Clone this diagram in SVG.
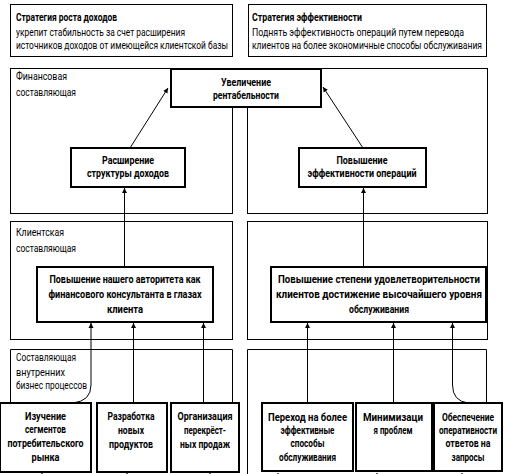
<svg xmlns="http://www.w3.org/2000/svg" width="511" height="474" viewBox="0 0 511 474">
<style>
.bg{fill:#fff}
.panel{fill:none;stroke:#000;stroke-width:1}
.node rect{fill:#fff;stroke:#000;stroke-width:2}
.t{font-family:Roboto,"Liberation Sans","DejaVu Sans",sans-serif;font-size:10.5px;fill:#000}
.b{font-weight:bold}
.c{text-anchor:middle}
.conn path{fill:none;stroke:#000;stroke-width:1;marker-end:url(#ah)}
</style>
<defs>
<marker id="ah" markerUnits="userSpaceOnUse" markerWidth="6" markerHeight="6" refX="5" refY="3" orient="auto">
<path d="M0,0.5 L5,3 L0,5.5 Z" fill="#000"/>
</marker>
</defs>
<rect class="bg" x="0" y="0" width="511" height="474"/>

<g id="strategy-growth">
<rect class="panel" x="10.5" y="4.5" width="222" height="52"/>
<text class="t b" x="16" y="21" textLength="101" lengthAdjust="spacingAndGlyphs">Стратегия роста доходов</text>
<text class="t" x="16" y="36" textLength="169" lengthAdjust="spacingAndGlyphs">укрепит стабильность за счет расширения</text>
<text class="t" x="16" y="49" textLength="212" lengthAdjust="spacingAndGlyphs">источников доходов от имеющейся клиентской базы</text>
</g>
<g id="strategy-efficiency">
<rect class="panel" x="248.5" y="4.5" width="238" height="52"/>
<text class="t b" x="252" y="21" textLength="110" lengthAdjust="spacingAndGlyphs">Стратегия эффективности</text>
<text class="t" x="252" y="36" textLength="212" lengthAdjust="spacingAndGlyphs">Поднять эффективность операций путем перевода</text>
<text class="t" x="252" y="49" textLength="230" lengthAdjust="spacingAndGlyphs">клиентов на более экономичные способы обслуживания</text>
</g>

<g id="panel-financial">
<rect class="panel" x="10.5" y="68.5" width="222" height="145"/>
<rect class="panel" x="247.5" y="68.5" width="240" height="145"/>
<text class="t" x="16" y="80" textLength="51" lengthAdjust="spacingAndGlyphs">Финансовая</text>
<text class="t" x="16" y="96" textLength="60" lengthAdjust="spacingAndGlyphs">составляющая</text>
</g>
<g id="panel-client">
<rect class="panel" x="10.5" y="221.5" width="222" height="118"/>
<rect class="panel" x="247.5" y="221.5" width="240" height="118"/>
<text class="t" x="16" y="236" textLength="48" lengthAdjust="spacingAndGlyphs">Клиентская</text>
<text class="t" x="16" y="252" textLength="60" lengthAdjust="spacingAndGlyphs">составляющая</text>
</g>
<g id="panel-process">
<path class="panel" d="M10.5,403 V349.5 H232.5 V403"/>
<path class="panel" d="M247.5,474 V349.5 H486.5 V403"/>
<text class="t" x="16" y="361" textLength="60" lengthAdjust="spacingAndGlyphs">Составляющая</text>
<text class="t" x="16" y="376" textLength="49" lengthAdjust="spacingAndGlyphs">внутренних</text>
<text class="t" x="16" y="389" textLength="71" lengthAdjust="spacingAndGlyphs">бизнес процессов</text>
</g>

<g id="connectors" class="conn">
<path d="M130,148 L168,88"/>
<path d="M363,148 L323,87"/>
<path d="M124.5,267 V188"/>
<path d="M363.5,267 V188"/>
<path d="M73,403 Q91,401 91,385 V323"/>
<path d="M133.5,403 V323"/>
<path d="M203.5,403 V323"/>
<path d="M307.5,403 V323"/>
<path d="M393.5,403 V323"/>
<path d="M468,403 Q452.5,401 452.5,385 V323"/>
<path d="M42,482 V473"/>
<path d="M127,482 V473"/>
<path d="M210,482 V473"/>
<path d="M278,482 V473"/>
<path d="M377,482 V473"/>
<path d="M462,482 V473"/>
</g>

<g id="node-profitability" class="node">
<rect x="171" y="69" width="150" height="38"/>
<text class="t b c" x="246" y="86" textLength="50" lengthAdjust="spacingAndGlyphs">Увеличение</text>
<text class="t b c" x="246" y="99" textLength="66" lengthAdjust="spacingAndGlyphs">рентабельности</text>
</g>
<g id="node-revenue" class="node">
<rect x="71" y="148" width="114" height="39"/>
<text class="t b c" x="128" y="164" textLength="52" lengthAdjust="spacingAndGlyphs">Расширение</text>
<text class="t b c" x="128" y="177" textLength="82" lengthAdjust="spacingAndGlyphs">структуры доходов</text>
</g>
<g id="node-efficiency" class="node">
<rect x="299" y="148" width="127" height="39"/>
<text class="t b c" x="362" y="164" textLength="51" lengthAdjust="spacingAndGlyphs">Повышение</text>
<text class="t b c" x="362" y="177" textLength="109" lengthAdjust="spacingAndGlyphs">эффективности операций</text>
</g>
<g id="node-authority" class="node">
<rect x="37" y="267" width="176" height="55"/>
<text class="t b c" x="125" y="283" textLength="151" lengthAdjust="spacingAndGlyphs">Повышение нашего авторитета как</text>
<text class="t b c" x="125" y="298" textLength="153" lengthAdjust="spacingAndGlyphs">финансового консультанта в глазах</text>
<text class="t b c" x="125" y="313" textLength="36" lengthAdjust="spacingAndGlyphs">клиента</text>
</g>
<g id="node-satisfaction" class="node">
<rect x="271" y="267" width="215" height="55"/>
<text class="t b c" x="379" y="283" textLength="202" lengthAdjust="spacingAndGlyphs">Повышение степени удовлетворительности</text>
<text class="t b c" x="379" y="298" textLength="206" lengthAdjust="spacingAndGlyphs">клиентов достижение высочайшего уровня</text>
<text class="t b c" x="379" y="313" textLength="60" lengthAdjust="spacingAndGlyphs">обслуживания</text>
</g>
<g id="node-segments" class="node">
<rect x="0" y="403" width="91" height="69"/>
<text class="t b c" x="45.5" y="420" textLength="41" lengthAdjust="spacingAndGlyphs">Изучение</text>
<text class="t b c" x="45.5" y="433" textLength="41" lengthAdjust="spacingAndGlyphs">сегментов</text>
<text class="t b c" x="45.5" y="447" textLength="76" lengthAdjust="spacingAndGlyphs">потребительского</text>
<text class="t b c" x="45.5" y="461" textLength="28" lengthAdjust="spacingAndGlyphs">рынка</text>
</g>
<g id="node-products" class="node">
<rect x="97" y="403" width="70" height="69"/>
<text class="t b c" x="131" y="420" textLength="47" lengthAdjust="spacingAndGlyphs">Разработка</text>
<text class="t b c" x="131" y="434" textLength="26" lengthAdjust="spacingAndGlyphs">новых</text>
<text class="t b c" x="131" y="448" textLength="44" lengthAdjust="spacingAndGlyphs">продуктов</text>
</g>
<g id="node-crosssales" class="node">
<rect x="171" y="403" width="68" height="69"/>
<text class="t b c" x="205" y="420" textLength="55" lengthAdjust="spacingAndGlyphs">Организация</text>
<text class="t b c" x="205" y="434" textLength="42" lengthAdjust="spacingAndGlyphs">перекрёст-</text>
<text class="t b c" x="205" y="448" textLength="50" lengthAdjust="spacingAndGlyphs">ных продаж</text>
</g>
<g id="node-transition" class="node">
<rect x="262" y="403" width="91" height="68"/>
<text class="t b c" x="307.5" y="421" textLength="79" lengthAdjust="spacingAndGlyphs">Переход на более</text>
<text class="t b c" x="307.5" y="434" textLength="54" lengthAdjust="spacingAndGlyphs">эффективные</text>
<text class="t b c" x="307.5" y="447" textLength="34" lengthAdjust="spacingAndGlyphs">способы</text>
<text class="t b c" x="307.5" y="461" textLength="57" lengthAdjust="spacingAndGlyphs">обслуживания</text>
</g>
<g id="node-problems" class="node">
<rect x="356" y="403" width="76" height="68"/>
<text class="t b c" x="393" y="421" textLength="60" lengthAdjust="spacingAndGlyphs">Минимизаци</text>
<text class="t b c" x="393" y="434" textLength="39" lengthAdjust="spacingAndGlyphs">я проблем</text>
</g>
<g id="node-responses" class="node">
<rect x="434" y="403" width="68" height="68"/>
<text class="t b c" x="468" y="421" textLength="52" lengthAdjust="spacingAndGlyphs">Обеспечение</text>
<text class="t b c" x="468" y="434" textLength="58" lengthAdjust="spacingAndGlyphs">оперативности</text>
<text class="t b c" x="468" y="447" textLength="45" lengthAdjust="spacingAndGlyphs">ответов на</text>
<text class="t b c" x="468" y="461" textLength="33" lengthAdjust="spacingAndGlyphs">запросы</text>
</g>
</svg>
